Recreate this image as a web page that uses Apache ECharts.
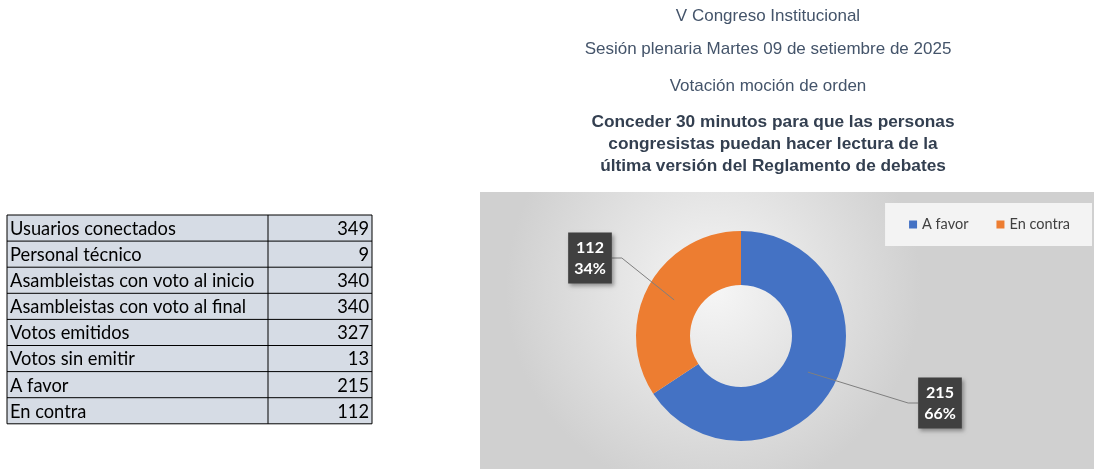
<!DOCTYPE html>
<html><head><meta charset="utf-8">
<script src="https://cdn.jsdelivr.net/npm/echarts@6/dist/echarts.min.js"></script>
<style>html,body{margin:0;padding:0;background:#fff}#c{width:1094px;height:469px}</style>
</head><body><div id="c"></div>
<script>
const headerLines = ['V Congreso Institucional','Sesión plenaria Martes 09 de setiembre de 2025','Votación moción de orden'];
const motionLines = ['Conceder 30 minutos para que las personas','congresistas puedan hacer lectura de la','última versión del Reglamento de debates'];
const tableLabels = ['Usuarios conectados','Personal técnico','Asambleistas con voto al inicio','Asambleistas con voto al final','Votos emitidos','Votos sin emitir','A favor','En contra'];
const tableValues = [349, 9, 340, 340, 327, 13, 215, 112];
const categories = ['A favor','En contra'];
const votes = [215, 112];
const colors = ['#4472C4','#ED7D31'];

const chart = echarts.init(document.getElementById('c'), null, {renderer:'canvas'});
const g = [];
// chart area background
g.push({type:'rect', shape:{x:480,y:192,width:614,height:277}, z:-10,
  style:{fill:new echarts.graphic.RadialGradient(0.38,0.35,0.75,[{offset:0,color:'#f6f6f6'},{offset:1,color:'#d0d0d0'}])}});
// titles
const headerY = [16, 49, 86];
headerLines.forEach((t,i)=>g.push({type:'text', x:768, y:headerY[i], style:{text:t, font:'17px "Liberation Sans", Arial, sans-serif', fill:'#44546A', textAlign:'center', textVerticalAlign:'middle'}}));
motionLines.forEach((t,i)=>g.push({type:'text', x:773, y:122+i*22.3, style:{text:t, font:'bold 17.3px "Liberation Sans", Arial, sans-serif', fill:'#333F50', textAlign:'center', textVerticalAlign:'middle'}}));
// table
const tx0=7, tx1=268, tx2=372, ty0=215, rh=26.1;
g.push({type:'rect', shape:{x:tx0,y:ty0,width:tx2-tx0,height:rh*tableLabels.length}, style:{fill:'#D6DCE5', stroke:'#000', lineWidth:1}});
for(let i=1;i<tableLabels.length;i++) g.push({type:'line', shape:{x1:tx0,y1:ty0+i*rh,x2:tx2,y2:ty0+i*rh}, style:{stroke:'#000',lineWidth:1}});
g.push({type:'line', shape:{x1:tx1,y1:ty0,x2:tx1,y2:ty0+rh*tableLabels.length}, style:{stroke:'#000',lineWidth:1}});
tableLabels.forEach((t,i)=>{
  g.push({type:'text', x:tx0+3, y:ty0+i*rh+rh/2+1, style:{text:t, font:'18.3px Lato, "Noto Sans", sans-serif', fill:'#000', textVerticalAlign:'middle'}});
  g.push({type:'text', x:tx2-3, y:ty0+i*rh+rh/2+1, style:{text:String(tableValues[i]), font:'18.3px Lato, "Noto Sans", sans-serif', fill:'#000', textAlign:'right', textVerticalAlign:'middle'}});
});

const data = categories.map((c,i)=>({name:c, value:votes[i], itemStyle:{color:colors[i]}}));
const total = votes.reduce((a,b)=>a+b,0);
const labelPos = [[940,403],[590,258]];
chart.setOption({
  animation:false,
  color: colors,
  legend:{data:categories, right:2, top:203, orient:'horizontal', itemWidth:8, itemHeight:8, itemGap:28,
    icon:'rect', backgroundColor:'#f3f3f3', padding:[14,22,14,24],
    textStyle:{fontFamily:'Lato, "Noto Sans", sans-serif', fontSize:14.5, color:'#404040'}},
  graphic:g,
  series:[
    {type:'pie', center:[741,336], radius:[51,105], startAngle:90, clockwise:true, data:data,
      label:{show:false}, labelLine:{show:false}, silent:true},
    {type:'pie', center:[741,336], radius:[0,76], startAngle:90, clockwise:true, silent:true, z:5,
      data:categories.map((c,i)=>({name:c, value:votes[i], itemStyle:{color:'rgba(0,0,0,0)'}})),
      label:{show:true, position:'outside', formatter:p=>p.value+'\n'+Math.round(p.value/total*100)+'%',
        backgroundColor:'#404040', color:'#fff', fontWeight:'bold', fontSize:16, lineHeight:21,
        fontFamily:'Lato, "Noto Sans", sans-serif', padding:[5,6,4,6],
        shadowColor:'rgba(0,0,0,0.35)', shadowBlur:4, shadowOffsetX:2, shadowOffsetY:2},
      labelLine:{show:true, length:10, length2:10, lineStyle:{color:'#7f7f7f', width:1}},
      labelLayout:p=>({x:labelPos[p.dataIndex][0], y:labelPos[p.dataIndex][1], align:'center', verticalAlign:'middle'})
    }
  ]
});
</script></body></html>
